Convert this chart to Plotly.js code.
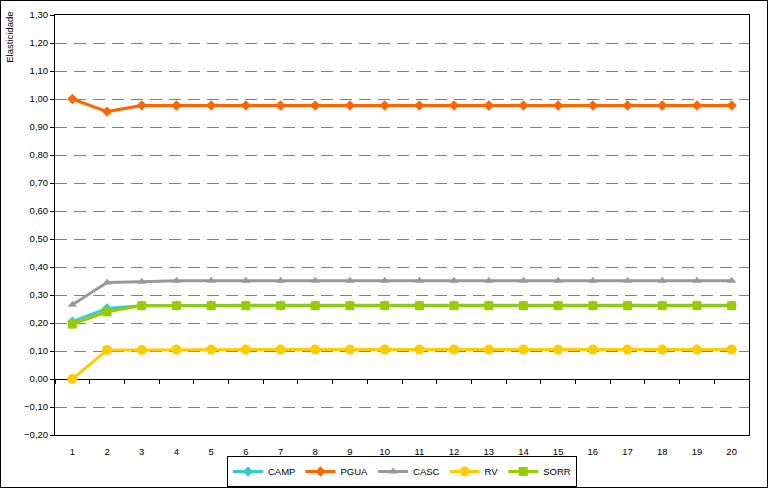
<!DOCTYPE html>
<html><head><meta charset="utf-8">
<script src="https://cdn.plot.ly/plotly-3.0.1.min.js"></script>
<style>html,body{margin:0;padding:0;background:#fff}#chart{width:766px;height:486px;border:1px solid #000}</style>
</head><body><div id="chart"></div>
<script>
const categories = [1,2,3,4,5,6,7,8,9,10,11,12,13,14,15,16,17,18,19,20];
const CAMP = [0.205,0.252,0.262,0.263,0.263,0.263,0.263,0.263,0.263,0.263,0.263,0.263,0.263,0.263,0.263,0.263,0.263,0.263,0.263,0.263];
const PGUA = [1.000,0.955,0.977,0.977,0.977,0.977,0.977,0.977,0.977,0.977,0.977,0.977,0.977,0.977,0.977,0.977,0.977,0.977,0.977,0.977];
const CASC = [0.265,0.345,0.347,0.351,0.351,0.351,0.351,0.351,0.351,0.351,0.351,0.351,0.351,0.351,0.351,0.351,0.351,0.351,0.351,0.351];
const RV   = [0.000,0.104,0.104,0.105,0.105,0.105,0.105,0.105,0.105,0.105,0.105,0.105,0.105,0.105,0.105,0.105,0.105,0.105,0.105,0.105];
const SORR = [0.196,0.240,0.262,0.262,0.262,0.262,0.262,0.262,0.262,0.262,0.262,0.262,0.262,0.262,0.262,0.262,0.262,0.262,0.262,0.262];
const seriesNames = ['CAMP','PGUA','CASC','RV','SORR'];
const yTitle = 'Elasticidade';

const styles = {
  CAMP: {color:'#33CCCC', symbol:'diamond', size:8},
  PGUA: {color:'#FF6600', symbol:'diamond', size:8},
  CASC: {color:'#999999', symbol:'triangle-up', size:8},
  RV:   {color:'#FFCC00', symbol:'circle', size:10},
  SORR: {color:'#99CC00', symbol:'square', size:9}
};
const dataMap = {CAMP, PGUA, CASC, RV, SORR};
const traces = seriesNames.map(n => ({
  x: categories, y: dataMap[n], name: n, type:'scatter', mode:'lines+markers',
  line:{color:styles[n].color, width:3},
  marker:{color:styles[n].color, symbol:styles[n].symbol, size:styles[n].size},
  hoverinfo:'skip'
}));
traces.push({x:categories, y:categories.map(()=>null), xaxis:'x2', showlegend:false, hoverinfo:'skip', mode:'lines'});

const boundaries = categories.map(c => c - 0.5).concat([categories[categories.length-1] + 0.5]);
const font = {family:'Liberation Sans, Arial, sans-serif', size:9.5, color:'#000'};

const layout = {
  width:766, height:486,
  margin:{l:54, r:18, t:14, b:52, autoexpand:false},
  paper_bgcolor:'#fff', plot_bgcolor:'#fff',
  font: font,
  separators: ',.',
  showlegend:true,
  xaxis:{
    range:[0.5,20.5], tickmode:'array', tickvals:categories, ticktext:categories.map(String),
    ticks:'', showgrid:false, zeroline:false,
    showline:true, mirror:true, linecolor:'#000', linewidth:1,
    ticklabelstandoff:8, tickfont:font, fixedrange:true
  },
  xaxis2:{
    overlaying:'x', anchor:'free', position:0.2/1.5, range:[0.5,20.5],
    tickmode:'array', tickvals:boundaries, ticks:'outside', ticklen:4, tickcolor:'#000', tickwidth:1,
    showticklabels:false, showgrid:false, zeroline:false, showline:false
  },
  yaxis:{
    range:[-0.2,1.3], dtick:0.1, tick0:0, tickformat:'.2f',
    ticks:'outside', ticklen:4, tickcolor:'#000',
    showgrid:true, gridcolor:'#808080', gridwidth:1, griddash:'12px,7px',
    zeroline:true, zerolinecolor:'#000', zerolinewidth:1,
    showline:true, mirror:true, linecolor:'#000', linewidth:1,
    tickfont:font, fixedrange:true
  },
  legend:{
    orientation:'h', x:0.5, xanchor:'center', yref:'container', y:31/486, yanchor:'top',
    bordercolor:'#000', borderwidth:1, bgcolor:'#fff', font:font,
    itemwidth:30, tracegroupgap:0
  },
  annotations:[{
    text:yTitle, xref:'paper', yref:'paper', x:-0.065, y:0.948,
    xanchor:'center', yanchor:'middle', textangle:-90, showarrow:false, font:font
  }]
};
Plotly.newPlot('chart', traces, layout, {displayModeBar:false, staticPlot:true});
</script></body></html>
